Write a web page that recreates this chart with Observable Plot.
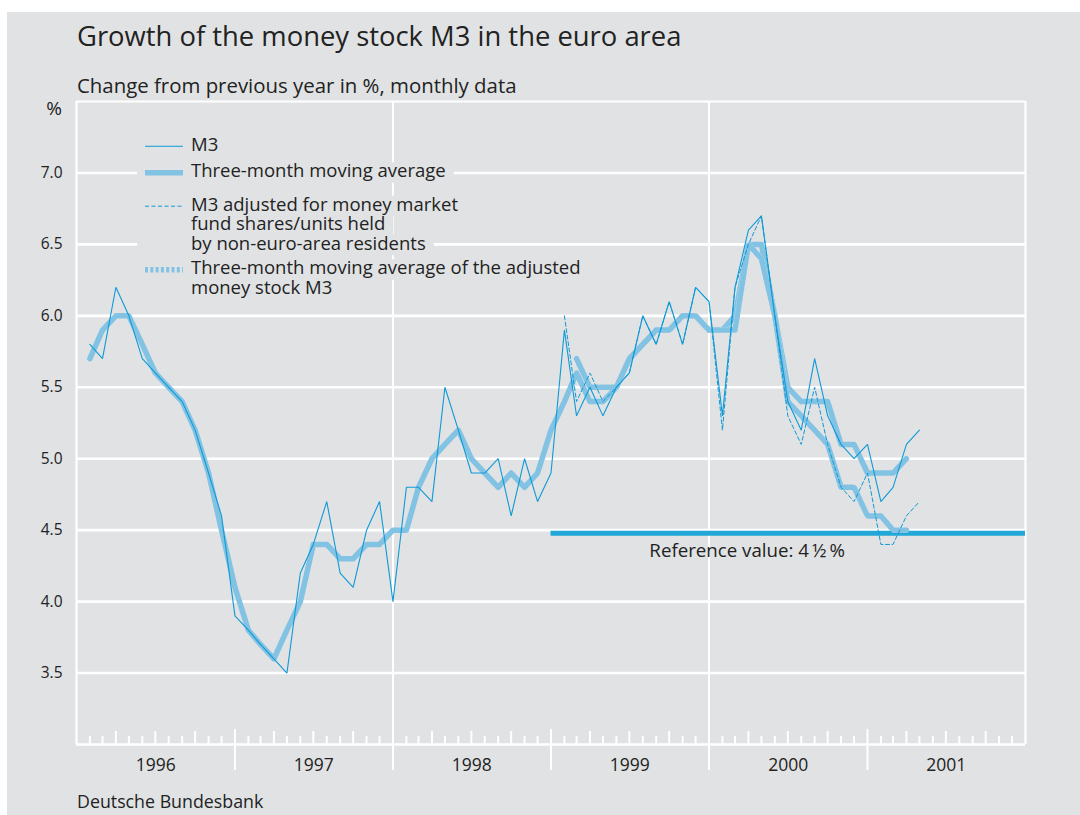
<!DOCTYPE html>
<html><head><meta charset="utf-8">
<script src="https://cdn.jsdelivr.net/npm/d3@7"></script>
<script src="https://cdn.jsdelivr.net/npm/@observablehq/plot@0.6"></script>
<style>
body{margin:0;background:#fff;}
#panel{position:absolute;left:7px;top:12px;width:1073px;height:803px;background:#e1e2e4;font-family:'Open Sans',sans-serif;color:#222;overflow:hidden}
.t{position:absolute;white-space:nowrap;line-height:normal}
</style></head><body>
<div id="panel">
 <div class="t" id="title" style="left:70px;top:5px;font-size:27.4px">Growth of the money stock M3 in the euro area</div>
 <div class="t" id="subtitle" style="left:70px;top:59px;font-size:20.4px">Change from previous year in %, monthly data</div>
 <div class="t" id="caption" style="left:70px;top:777px;font-size:17.8px">Deutsche Bundesbank</div>
</div>
<script>
// ---- data (monthly, change from previous year in %) ----
const m3Start = "1996-01";           // Jan 1996 – Apr 2001
const m3Values = [
  5.8,5.7,6.2,6.0,5.7,5.6,5.5,5.4,5.2,4.9,4.6,3.9,
  3.8,3.7,3.6,3.5,4.2,4.4,4.7,4.2,4.1,4.5,4.7,4.0,
  4.8,4.8,4.7,5.5,5.2,4.9,4.9,5.0,4.6,5.0,4.7,4.9,
  5.9,5.3,5.5,5.3,5.5,5.6,6.0,5.8,6.1,5.8,6.2,6.1,
  5.3,6.2,6.6,6.7,6.0,5.4,5.2,5.7,5.3,5.1,5.0,5.1,
  4.7,4.8,5.1,5.2];
const m3AvgStart = "1996-01";        // Jan 1996 – Mar 2001
const m3AvgValues = [
  5.7,5.9,6.0,6.0,5.8,5.6,5.5,5.4,5.2,4.9,4.5,4.1,
  3.8,3.7,3.6,3.8,4.0,4.4,4.4,4.3,4.3,4.4,4.4,4.5,
  4.5,4.8,5.0,5.1,5.2,5.0,4.9,4.8,4.9,4.8,4.9,5.2,
  5.4,5.6,5.4,5.4,5.5,5.7,5.8,5.9,5.9,6.0,6.0,5.9,
  5.9,6.0,6.5,6.5,6.0,5.5,5.4,5.4,5.4,5.1,5.1,4.9,
  4.9,4.9,5.0];
const adjStart = "1999-01";          // Jan 1999 – Apr 2001
const adjValues = [
  6.0,5.4,5.6,5.4,5.5,5.6,6.0,5.8,6.1,5.8,6.2,6.1,
  5.2,6.2,6.5,6.7,6.0,5.3,5.1,5.5,5.1,4.8,4.7,4.9,
  4.4,4.4,4.6,4.7];
const adjAvgStart = "1999-02";       // Feb 1999 – Mar 2001
const adjAvgValues = [
  5.7,5.5,5.5,5.5,5.7,5.8,5.9,5.9,6.0,6.0,5.9,
  5.9,5.9,6.5,6.4,6.0,5.4,5.3,5.2,5.1,4.8,4.8,4.6,
  4.6,4.5,4.5];
const refValue = 4.5;
const refFrom = "1999-01";
const refLabel = "Reference value: 4\u2009\u00BD\u2009%";
const yearLabels = ["1996","1997","1998","1999","2000","2001"];
const yTicks = [3.5,4.0,4.5,5.0,5.5,6.0,6.5,7.0];
const legendItems = [
  {kind:"m3",     lines:["M3"]},
  {kind:"avg",    lines:["Three-month moving average"]},
  {kind:"adj",    lines:["M3 adjusted for money market","fund shares/units held","by non-euro-area residents"]},
  {kind:"adjAvg", lines:["Three-month moving average of the adjusted","money stock M3"]}
];

// ---- helpers ----
function series(start, values){
  const [y,m] = start.split("-").map(Number);
  // observation for a month is plotted at the end of that month
  return values.map((v,i)=>({date:new Date(Date.UTC(y, m-1+i+1, 1)), value:v}));
}
const m3 = series(m3Start, m3Values);
const m3Avg = series(m3AvgStart, m3AvgValues);
const adj = series(adjStart, adjValues);
const adjAvg = series(adjAvgStart, adjAvgValues);

const x0 = new Date(Date.UTC(+yearLabels[0],0,1));
const x1 = new Date(Date.UTC(+yearLabels[yearLabels.length-1]+1,0,1));
const yearStarts = d3.utcYear.range(x0, d3.utcYear.offset(x1,1));
const innerYears = yearStarts.slice(1,-1).filter(d=>d.getUTCFullYear()%2===1);
const gridYears = yearStarts.slice(1,-1).filter(d=>d.getUTCFullYear()%2===0);
const months = d3.utcMonth.range(x0,x1).filter(d=>d.getUTCMonth()!==0);
const quarterTicks = months.filter(d=>d.getUTCMonth()%3===0);
const minorTicks = months.filter(d=>d.getUTCMonth()%3!==0);
const refStart = new Date(Date.UTC(+refFrom.slice(0,4), +refFrom.slice(5)-1, 1));

const W="#ffffff", BG="#e1e2e4", THIN="#0e9ad7", MA="#82c3e4", REF="#22a7d9", INK="#222";

const chart = Plot.plot({
  width:1073, height:694,
  marginTop:11, marginLeft:69, marginRight:55, marginBottom:40,
  x:{type:"utc", domain:[x0,x1], axis:null},
  y:{domain:[3,7.5], axis:null},
  style:{background:"transparent", fontFamily:"'Open Sans', sans-serif", color:INK, overflow:"visible"},
  marks:[
    Plot.ruleY(yTicks,{stroke:W, strokeWidth:2.6}),
    Plot.ruleY([7.5],{stroke:W, strokeWidth:2}),
    Plot.ruleX([x0,x1],{stroke:W, strokeWidth:2.2}),
    Plot.ruleX(gridYears,{stroke:W, strokeWidth:2, insetBottom:-26}),
    Plot.ruleX(innerYears,{y1:3, y2:3, insetTop:-15, insetBottom:-26, stroke:W, strokeWidth:2}),
    Plot.ruleX(quarterTicks,{y1:3, y2:3, insetTop:-13, stroke:W, strokeWidth:2}),
    Plot.ruleX(minorTicks,{y1:3, y2:3, insetTop:-8, stroke:W, strokeWidth:2}),
    Plot.ruleY([3],{stroke:W, strokeWidth:2.7}),
    Plot.axisY(yTicks,{anchor:"left", tickSize:0, tickPadding:14, tickFormat:d=>d.toFixed(1), label:null, fontSize:15.5, fill:INK}),
    Plot.text(yearLabels,{x:d=>new Date(Date.UTC(+d,6,2)), y:()=>3, dy:21, fontSize:17.5, fill:INK}),
    Plot.line(m3Avg,{x:"date", y:"value", stroke:MA, strokeWidth:5.5, strokeLinejoin:"round"}),
    Plot.line(adjAvg,{x:"date", y:"value", stroke:BG, strokeWidth:5.5}),
    Plot.ruleY([refValue],{x1:()=>refStart, x2:()=>x1, stroke:REF, strokeWidth:5, dy:3}),
    Plot.line(adjAvg,{x:"date", y:"value", stroke:MA, strokeWidth:5.5, strokeDasharray:"3,2.3"}),
    Plot.line(adj,{x:"date", y:"value", stroke:THIN, strokeWidth:1, strokeDasharray:"4,2.5"}),
    Plot.line(m3,{x:"date", y:"value", stroke:THIN, strokeWidth:1.1, strokeLinejoin:"miter"}),
    Plot.text([refLabel],{x:()=>new Date(Date.UTC(2000,2,29)), y:()=>refValue, dy:21, fontSize:18.7, fill:INK})
  ]
});
chart.style.position="absolute"; chart.style.left="0px"; chart.style.top="78px";
const panel = document.getElementById("panel");
panel.appendChild(chart);

// percent label
const pct = document.createElement("div");
pct.className="t"; pct.textContent="%";
pct.style.left="15px"; pct.style.top="83px"; pct.style.width="40px";
pct.style.textAlign="right"; pct.style.fontSize="19px";
panel.appendChild(pct);

// ---- legend inside the plot area ----
const svg = d3.select(chart);
const lg = svg.append("g").attr("font-family","'Open Sans', sans-serif").attr("font-size",18.5)
  .attr("fill",INK).attr("text-anchor","start");
const baselines = [60.7, 87.3, 120.7, 184.3];
const lineH = 19.5;
legendItems.forEach((it,k)=>{
  const g = lg.append("g");
  it.lines.forEach((s,i)=>{
    const by = baselines[k]+i*lineH;
    const t = g.append("text").attr("x",184).attr("y",by).text(s);
    const len = t.node().getComputedTextLength();
    g.insert("rect",":first-child").attr("x",130).attr("y",by-15).attr("width",184+len+8-130).attr("height",20.5).attr("fill",BG);
  });
  const sy = baselines[k]-4.5;
  const ln = g.append("line").attr("x1",138).attr("x2",176).attr("y1",sy).attr("y2",sy);
  if (it.kind==="adjAvg"){
    ln.attr("stroke",MA).attr("stroke-width",5.5).attr("stroke-dasharray","3,2.3");
  } else if (it.kind==="avg"){
    ln.attr("stroke",MA).attr("stroke-width",5.5);
  } else if (it.kind==="adj"){
    ln.attr("stroke",THIN).attr("stroke-width",1).attr("stroke-dasharray","4,2.5");
  } else {
    ln.attr("stroke",THIN).attr("stroke-width",1.1);
  }
});
</script>
</body></html>
